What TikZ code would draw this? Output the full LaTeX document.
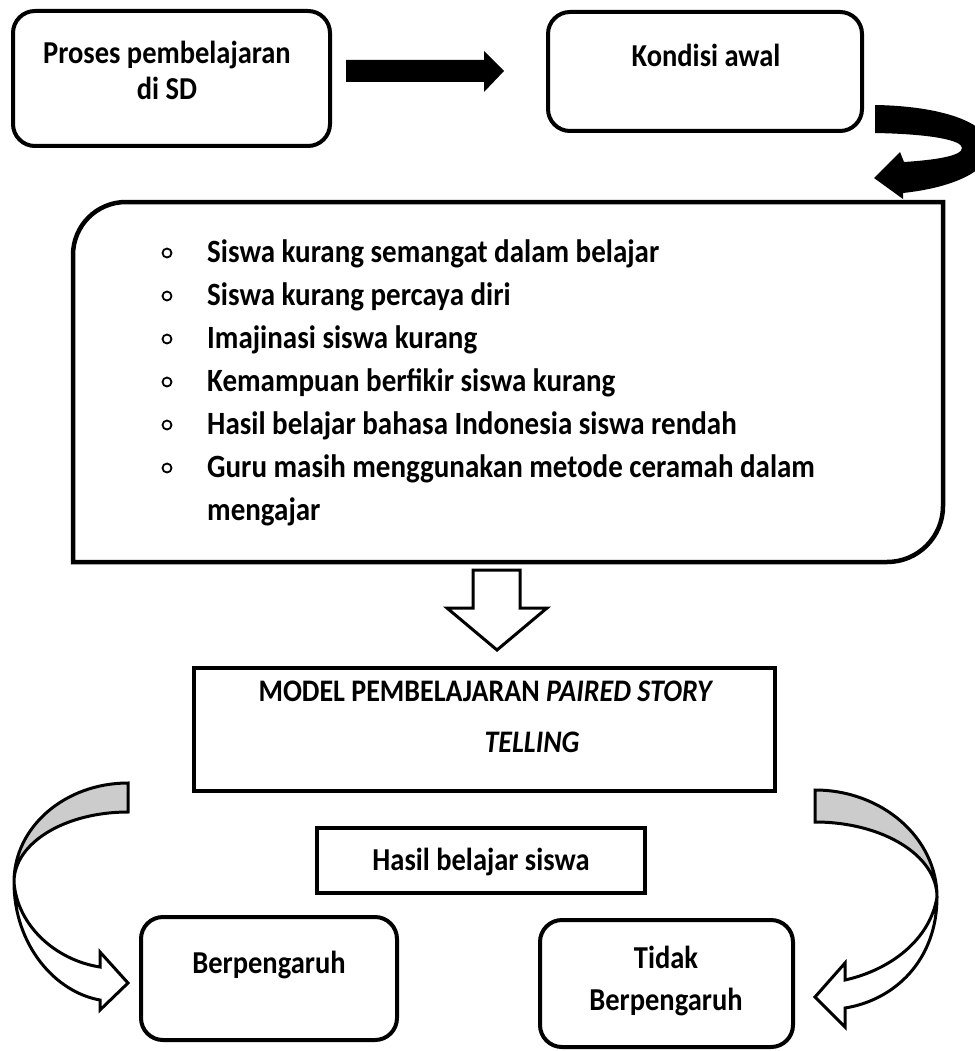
\documentclass[tikz,border=0pt]{standalone}
\usepackage{fontspec}
\usepackage{graphicx}
\setmainfont{Carlito}
\newcommand{\Tx}[1]{\scalebox{1}[1.12]{#1}}
\begin{document}
\begin{tikzpicture}[x=1pt,y=-1pt,
  font=\fontsize{28.5}{34}\selectfont\bfseries,
  rbox/.style={draw, line width=4pt, rounded corners=22pt, inner sep=0pt, outer sep=0pt},
  sbox/.style={draw, line width=4pt, inner sep=0pt, outer sep=0pt},
  txt/.style={anchor=base, inner sep=0pt},
  ltxt/.style={anchor=base west, inner sep=0pt, font=\fontsize{29}{34}\selectfont\bfseries},
  bul/.style={draw, circle, line width=1.8pt, minimum size=9pt, inner sep=0pt},
  hollow/.style={draw, line width=3pt, line join=miter, fill=white},
  back/.style={draw, line width=3pt, fill=black!20}]
\useasboundingbox (0,0) rectangle (974,1051);

% top boxes
\node[rbox, minimum width=317pt, minimum height=135pt] (b1) at (171.5,78.5) {};
\node[txt] (t1a) at (167,64) {\Tx{Proses pembelajaran}};
\node[txt] (t1b) at (167,100) {\Tx{di SD}};

\node[rbox, minimum width=314pt, minimum height=119pt] (b2) at (705,71.5) {};
\node[txt] (t2) at (706,67) {\Tx{Kondisi awal}};

% black straight arrow
\fill (346,60) -- (484,60) -- (484,51) -- (504,71) -- (484,92) -- (484,82) -- (346,82) -- cycle;

% black curved arrow
\fill (875,105) .. controls (940,106) and (990,122) .. (990,148)
  .. controls (990,172) and (950,188) .. (903,193)
  -- (903,199) -- (874,178) -- (900,152) -- (904,162)
  .. controls (935,160) and (962,156) .. (962,148)
  .. controls (962,140) and (930,134) .. (875,133) -- cycle;

% big box (rounded top-left and bottom-right only)
\draw[line width=4.5pt] (73,562) -- (73,255)
  .. controls (73,225.7) and (96.7,202) .. (126,202) -- (943,202) -- (943,506)
  .. controls (943,537) and (918,562) .. (887,562) -- cycle;
\node[inner sep=0pt] (big) at (508,382) {};

\foreach \i/\yy/\tt in {1/262/Siswa kurang semangat dalam belajar,
  2/305/Siswa kurang percaya diri,
  3/348/Imajinasi siswa kurang,
  4/391/Kemampuan berfikir siswa kurang,
  5/434/Hasil belajar bahasa Indonesia siswa rendah,
  6/477/Guru masih menggunakan metode ceramah dalam}{
  \node[bul] (c\i) at (167,\yy-9) {};
  \node[ltxt] (l\i) at (207,\yy) {\Tx{\tt}};
}
\node[ltxt] (l7) at (207,520) {\Tx{mengajar}};

% hollow down arrow
\draw[hollow] (473,570) -- (520,570) -- (520,608) -- (547,608) -- (497,650)
  -- (447,608) -- (473,608) -- cycle;

% model box
\node[sbox, minimum width=581pt, minimum height=123pt] (m) at (484.5,729.5) {};
\node[txt, font=\fontsize{28}{34}\selectfont\bfseries] (m1) at (486,701) {\Tx{MODEL PEMBELAJARAN \textit{PAIRED STORY}}};
\node[txt, font=\fontsize{28}{34}\selectfont\bfseries] (m2) at (532,752) {\Tx{\textit{TELLING}}};

% hasil box
\node[sbox, minimum width=328pt, minimum height=65pt] (h) at (481,860.5) {};
\node[txt] (ht) at (481,870) {\Tx{Hasil belajar siswa}};

% bottom boxes
\node[rbox, minimum width=256pt, minimum height=123pt] (bp) at (269,978.5) {};
\node[txt] (bpt) at (269,973) {\Tx{Berpengaruh}};
\node[rbox, minimum width=253pt, minimum height=127pt] (tb) at (666.5,983.5) {};
\node[txt] (tb1) at (666,968) {\Tx{Tidak}};
\node[txt] (tb2) at (666,1010) {\Tx{Berpengaruh}};

% left curved arrow
\draw[back] (128,783) .. controls (65,783) and (14,827) .. (14,882)
  .. controls (14,843) and (65,812) .. (128,812) -- cycle;
\draw[hollow] (14,882) .. controls (14,945) and (55,992) .. (100,1000)
  -- (100,1010) -- (128,983) -- (100,952) -- (100,967)
  .. controls (55,960) and (17,925) .. (14,882) -- cycle;

% right curved arrow
\draw[back] (815,790) .. controls (882,790) and (937,838) .. (937,897)
  .. controls (937,855) and (882,822) .. (815,822) -- cycle;
\draw[hollow] (937,897) .. controls (937,960) and (895,1000) .. (845,1008)
  -- (845,1027) -- (815,997) -- (845,963) -- (845,980)
  .. controls (890,970) and (930,940) .. (937,897) -- cycle;
\end{tikzpicture}
\end{document}
